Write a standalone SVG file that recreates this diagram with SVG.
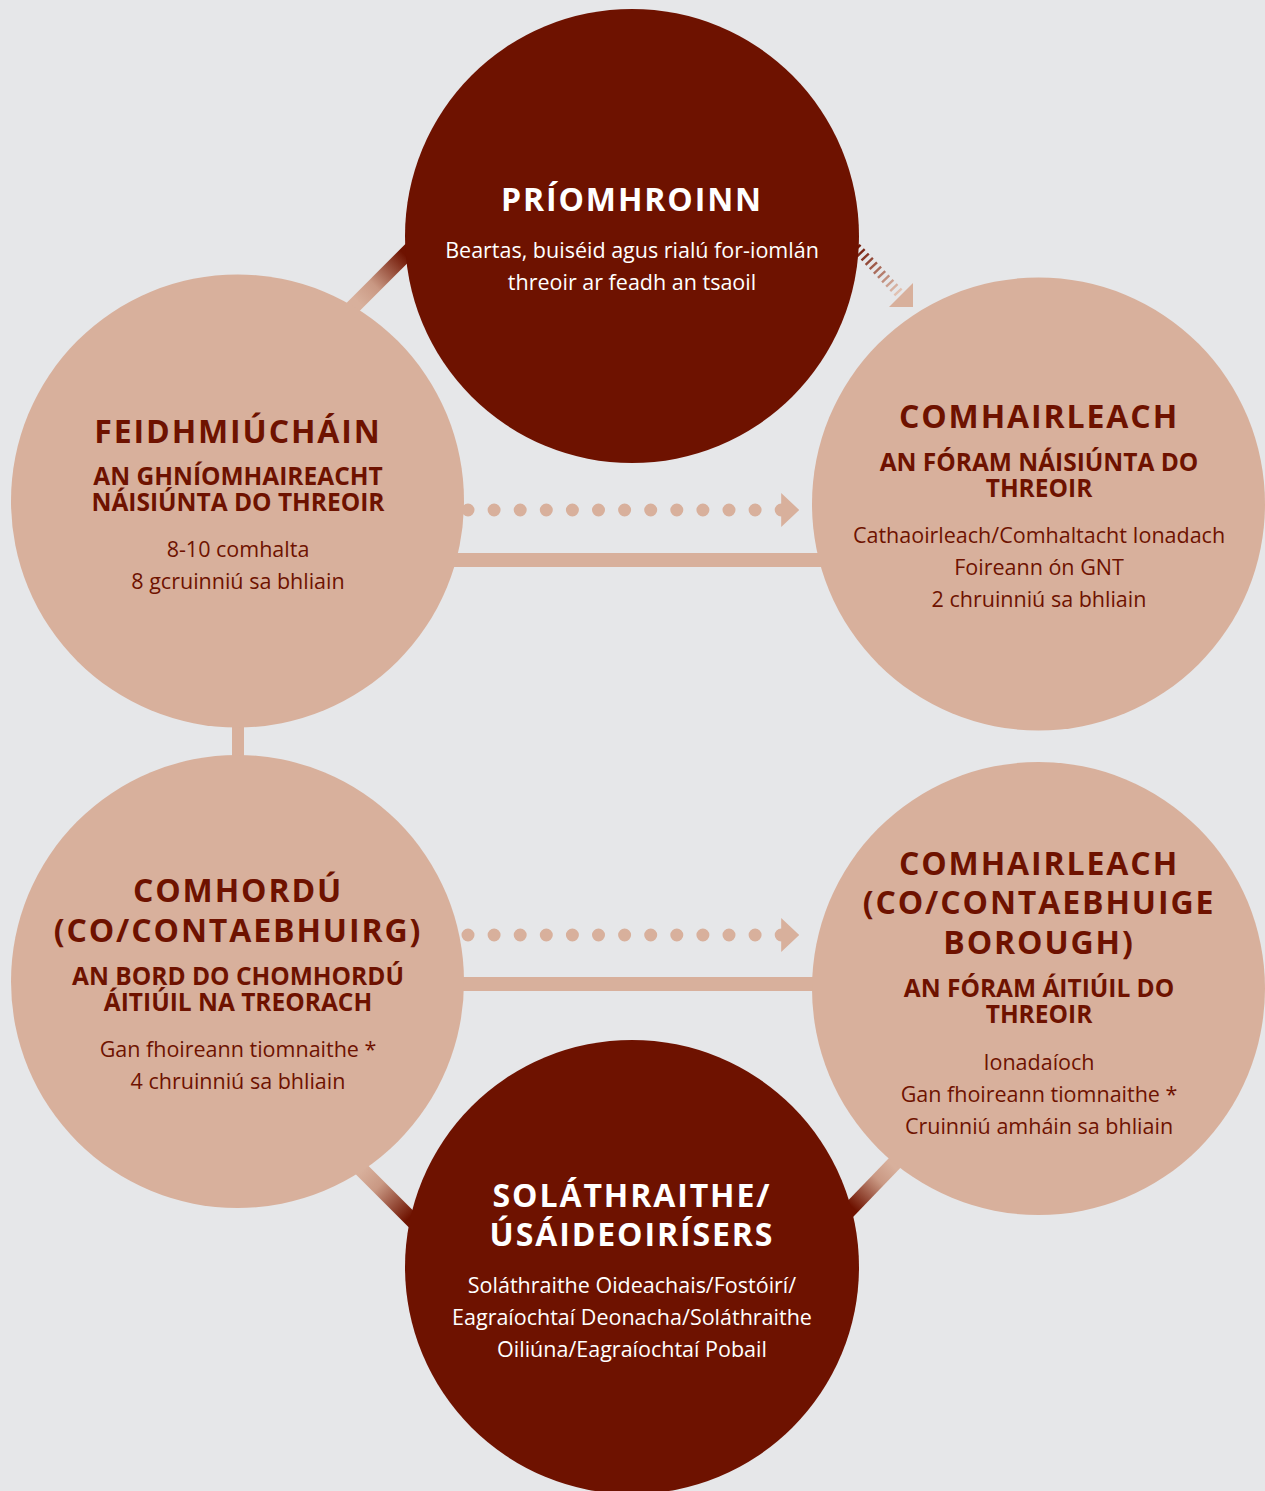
<svg xmlns="http://www.w3.org/2000/svg" width="1265" height="1491" viewBox="0 0 1265 1491">
<style>
.bg{fill:#e6e7e9}
.light{fill:#d8b09c}
.dark{fill:#6e1200}
text{font-family:"Open Sans","Noto Sans","Liberation Sans",sans-serif;text-anchor:middle}
.t1{font-size:32px;font-weight:700;letter-spacing:1.9px}
.t2{font-size:24.5px;font-weight:700}
.b{font-size:21.5px;font-weight:400}
.onlight{fill:#6e1200}
.ondark{fill:#ffffff}
.bar{stroke:#d8b09c;stroke-width:14;fill:none}
.dots{stroke:#d8b09c;stroke-width:13;stroke-linecap:round;stroke-dasharray:0 26.1;fill:none}
</style>
<defs>
<marker id="tri" viewBox="0 0 18 34" refX="0" refY="17" markerWidth="18" markerHeight="34" markerUnits="userSpaceOnUse" orient="auto">
<path d="M0,0 L18,17 L0,34 Z" fill="#d8b09c"/>
</marker>
<linearGradient id="gTL" gradientUnits="userSpaceOnUse" x1="358" y1="302" x2="405" y2="255">
<stop offset="0" stop-color="#d8b09c"/><stop offset="0.35" stop-color="#c99883"/><stop offset="1" stop-color="#6e1200"/>
</linearGradient>
<linearGradient id="gBL" gradientUnits="userSpaceOnUse" x1="362" y1="1170" x2="410" y2="1217">
<stop offset="0" stop-color="#d8b09c"/><stop offset="0.35" stop-color="#c99883"/><stop offset="1" stop-color="#6e1200"/>
</linearGradient>
<linearGradient id="gBR" gradientUnits="userSpaceOnUse" x1="892" y1="1165" x2="852" y2="1207">
<stop offset="0" stop-color="#d8b09c"/><stop offset="0.35" stop-color="#c99883"/><stop offset="1" stop-color="#6e1200"/>
</linearGradient>
<linearGradient id="gH" gradientUnits="userSpaceOnUse" x1="856" y1="247" x2="898" y2="292">
<stop offset="0" stop-color="#6e1200"/><stop offset="1" stop-color="#e2c2b2"/>
</linearGradient>
</defs>
<rect class="bg" x="0" y="0" width="1265" height="1491"/>

<g id="connectors">
<line x1="330" y1="330" x2="430" y2="230" stroke="url(#gTL)" stroke-width="15"/>
<line x1="340" y1="1148" x2="430" y2="1238" stroke="url(#gBL)" stroke-width="15"/>
<line x1="912" y1="1145" x2="832" y2="1228" stroke="url(#gBR)" stroke-width="15"/>
<line x1="238" y1="700" x2="238" y2="790" stroke="#d8b09c" stroke-width="12"/>
<line class="bar" x1="440" y1="560" x2="835" y2="560"/>
<line class="bar" x1="440" y1="984" x2="835" y2="984"/>
<line class="dots" x1="468" y1="510" x2="781.2" y2="510" marker-end="url(#tri)"/>
<line class="dots" x1="468" y1="935" x2="781.2" y2="935" marker-end="url(#tri)"/>
<line x1="852" y1="243" x2="899" y2="293" stroke="url(#gH)" stroke-width="10" stroke-dasharray="2.4 3.6"/>
<path d="M889,307 L913,283 L913,307 Z" fill="#d8b09c"/>
</g>

<g id="node-priomhroinn">
<circle class="dark" cx="632" cy="236" r="227"/>
<text class="t1 ondark" x="632" y="211">PRÍOMHROINN</text>
<text class="b ondark" x="632" y="258">Beartas, buiséid agus rialú for-iomlán</text>
<text class="b ondark" x="632" y="290">threoir ar feadh an tsaoil</text>
</g>

<g id="node-feidhmiuchain">
<circle class="light" cx="237.5" cy="501" r="226.5"/>
<text class="t1 onlight" x="238" y="443">FEIDHMIÚCHÁIN</text>
<text class="t2 onlight" x="238" y="485">AN GHNÍOMHAIREACHT</text>
<text class="t2 onlight" x="238" y="511">NÁISIÚNTA DO THREOIR</text>
<text class="b onlight" x="238" y="557">8-10 comhalta</text>
<text class="b onlight" x="238" y="589">8 gcruinniú sa bhliain</text>
</g>

<g id="node-comhairleach-naisiunta">
<circle class="light" cx="1038.5" cy="504" r="226.5"/>
<text class="t1 onlight" x="1039" y="428">COMHAIRLEACH</text>
<text class="t2 onlight" x="1039" y="471">AN FÓRAM NÁISIÚNTA DO</text>
<text class="t2 onlight" x="1039" y="497">THREOIR</text>
<text class="b onlight" x="1039" y="543">Cathaoirleach/Comhaltacht Ionadach</text>
<text class="b onlight" x="1039" y="575">Foireann ón GNT</text>
<text class="b onlight" x="1039" y="607">2 chruinniú sa bhliain</text>
</g>

<g id="node-comhordu">
<circle class="light" cx="237.5" cy="981.5" r="226.5"/>
<text class="t1 onlight" x="238" y="902">COMHORDÚ</text>
<text class="t1 onlight" x="238" y="942">(CO/CONTAEBHUIRG)</text>
<text class="t2 onlight" x="238" y="985">AN BORD DO CHOMHORDÚ</text>
<text class="t2 onlight" x="238" y="1011">ÁITIÚIL NA TREORACH</text>
<text class="b onlight" x="238" y="1057">Gan fhoireann tiomnaithe *</text>
<text class="b onlight" x="238" y="1089">4 chruinniú sa bhliain</text>
</g>

<g id="node-comhairleach-aitiuil">
<circle class="light" cx="1038.5" cy="988.5" r="226.5"/>
<text class="t1 onlight" x="1039" y="875">COMHAIRLEACH</text>
<text class="t1 onlight" x="1039" y="914">(CO/CONTAEBHUIGE</text>
<text class="t1 onlight" x="1039" y="954">BOROUGH)</text>
<text class="t2 onlight" x="1039" y="997">AN FÓRAM ÁITIÚIL DO</text>
<text class="t2 onlight" x="1039" y="1023">THREOIR</text>
<text class="b onlight" x="1039" y="1070">Ionadaíoch</text>
<text class="b onlight" x="1039" y="1102">Gan fhoireann tiomnaithe *</text>
<text class="b onlight" x="1039" y="1134">Cruinniú amháin sa bhliain</text>
</g>

<g id="node-solathraithe">
<circle class="dark" cx="632" cy="1267" r="227"/>
<text class="t1 ondark" x="632" y="1207">SOLÁTHRAITHE/</text>
<text class="t1 ondark" x="632" y="1246">ÚSÁIDEOIRÍSERS</text>
<text class="b ondark" x="632" y="1293">Soláthraithe Oideachais/Fostóirí/</text>
<text class="b ondark" x="632" y="1325">Eagraíochtaí Deonacha/Soláthraithe</text>
<text class="b ondark" x="632" y="1357">Oiliúna/Eagraíochtaí Pobail</text>
</g>
</svg>
